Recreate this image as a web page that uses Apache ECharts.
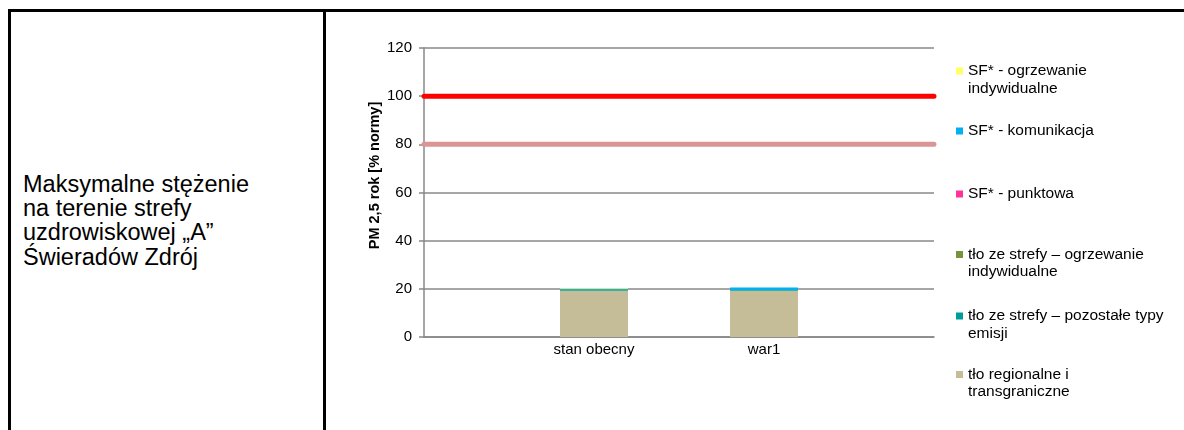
<!DOCTYPE html>
<html lang="pl">
<head>
<meta charset="utf-8">
<title>PM 2,5 rok – Świeradów Zdrój</title>
<script src="https://cdn.jsdelivr.net/npm/echarts@6/dist/echarts.min.js"></script>
<style>
  html, body { margin: 0; padding: 0; background: #fff; width: 1184px; height: 430px; overflow: hidden; }
  #frame { position: absolute; left: 8px; top: 9px; width: 1200px; height: 440px; border-top: 3px solid #000; border-left: 3px solid #000; box-sizing: border-box; }
  #divider { position: absolute; left: 323px; top: 9px; width: 3px; height: 430px; background: #000; }
  #caption { position: absolute; left: 23px; top: 172px; font-family: "Liberation Sans", Arial, sans-serif; font-size: 23.5px; line-height: 24.2px; color: #000; }
  #chart { position: absolute; left: 0; top: 0; width: 1184px; height: 430px; }
</style>
</head>
<body>
<div id="frame"></div>
<div id="divider"></div>
<div id="caption">Maksymalne stężenie<br>na terenie strefy<br>uzdrowiskowej „A”<br>Świeradów Zdrój</div>
<div id="chart"></div>
<script>
// Categories (outer blank slots keep the two scenarios centred between the limit lines)
const categories = ['', 'stan obecny', 'war1', ''];

// Stacked contributions, bottom to top [% normy]
const tloRegionalne = [null, 19.2, 19.2, null];
const tloPozostale = [null, 0.3, 0.3, null];
const tloOgrzewanie = [null, 0.1, 0.05, null];
const sfPunktowa = [null, 0.0, 0.0, null];
const sfKomunikacja = [null, 0.4, 1.0, null];
const sfOgrzewanie = [null, 0.3, 0.0, null];

// Reference levels
const normaLevel = [100, 100, 100, 100];
const progLevel = [80, 80, 80, 80];

// Y-axis scale
const yMin = 0, yMax = 120, yStep = 20;

const seriesNames = [
  'tło regionalne i\ntransgraniczne',
  'tło ze strefy – pozostałe typy\nemisji',
  'tło ze strefy – ogrzewanie\nindywidualne',
  'SF* - punktowa',
  'SF* - komunikacja',
  'SF* - ogrzewanie\nindywidualne'
];
const seriesValues = [tloRegionalne, tloPozostale, tloOgrzewanie, sfPunktowa, sfKomunikacja, sfOgrzewanie];
const seriesColors = ['#C4BD97', '#009B9B', '#77933C', '#FF3399', '#00B0F0', '#FFFF66'];

const FONT = '"Liberation Sans", Arial, sans-serif';
const LINE_H = 17.5;

const chart = echarts.init(document.getElementById('chart'), null, { renderer: 'canvas' });

const barSeries = seriesNames.map((name, i) => ({
  name: name,
  type: 'bar',
  stack: 'total',
  barWidth: 68,
  data: seriesValues[i],
  itemStyle: { color: seriesColors[i] },
  emphasis: { disabled: true }
}));

const lineSeries = [
  { name: 'norma', data: normaLevel, color: '#FF0000' },
  { name: 'próg', data: progLevel, color: '#D99694' }
].map(s => ({
  name: s.name,
  type: 'line',
  data: s.data,
  symbol: 'none',
  silent: true,
  lineStyle: { color: s.color, width: 5, cap: 'round' },
  z: 3
}));

// Legend entries, listed top-down. Legend text is centred on its marker, so
// two-line names get an empty leading line to put the marker beside line one.
const legendMarkerY = [71, 131, 194, 254.5, 316, 374.5];
const legends = seriesNames.slice().reverse().map((name, i) => {
  const twoLine = name.indexOf('\n') >= 0;
  return {
    orient: 'vertical',
    left: 956,
    top: legendMarkerY[i] - (twoLine ? LINE_H * 1.5 : LINE_H * 0.5),
    padding: 0,
    itemWidth: 7,
    itemHeight: 7,
    selectedMode: false,
    data: [{ name: name, icon: 'rect' }],
    formatter: n => (n.indexOf('\n') >= 0 ? ' \n' + n : n),
    textStyle: { fontFamily: FONT, fontSize: 15.5, lineHeight: LINE_H, color: '#000' }
  };
});

chart.setOption({
  animation: false,
  backgroundColor: 'transparent',
  grid: { left: 424, right: 250, top: 48, bottom: 93, containLabel: false },
  legend: legends,
  xAxis: {
    type: 'category',
    data: categories,
    boundaryGap: false,
    axisLine: { lineStyle: { color: '#888', width: 1.5 } },
    axisTick: { show: false },
    axisLabel: { fontFamily: FONT, fontSize: 15, color: '#000', margin: 5, interval: 0 },
    splitLine: { show: false }
  },
  yAxis: {
    type: 'value',
    min: yMin,
    max: yMax,
    interval: yStep,
    name: 'PM 2,5 rok [% normy]',
    nameLocation: 'middle',
    nameRotate: 90,
    nameGap: 42,
    nameTextStyle: { fontFamily: FONT, fontSize: 14.5, fontWeight: 'bold', color: '#000', padding: [0, 0, 0, 34] },
    axisLine: { show: true, lineStyle: { color: '#888', width: 1.5 } },
    axisTick: { show: true, inside: false, length: 5, lineStyle: { color: '#888', width: 1.5 } },
    axisLabel: { fontFamily: FONT, fontSize: 15, color: '#000', margin: 12 },
    splitLine: { show: true, lineStyle: { color: '#888', width: 1.5 } }
  },
  series: barSeries.concat(lineSeries)
});
</script>
</body>
</html>
